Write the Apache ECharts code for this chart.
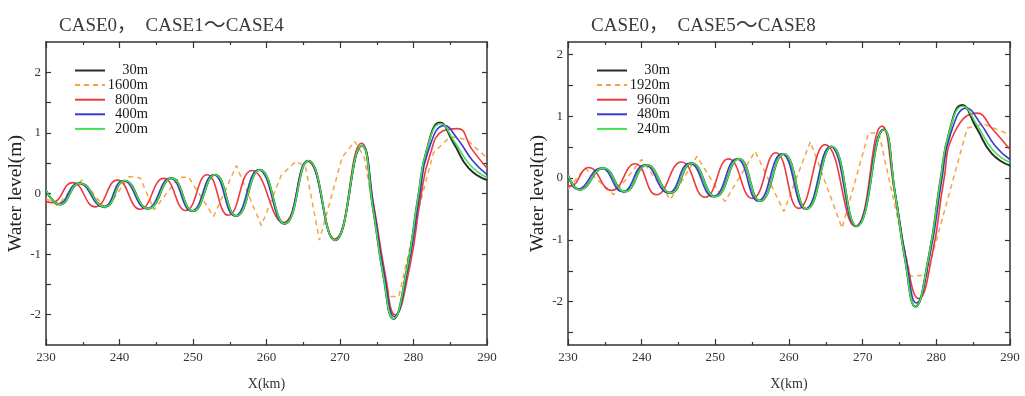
<!DOCTYPE html>
<html>
<head>
<meta charset="utf-8">
<script src="https://cdn.jsdelivr.net/npm/echarts@6/dist/echarts.min.js"></script>
<style>
  html, body { margin: 0; padding: 0; background: #fff; }
  #chart { width: 1025px; height: 396px; }
</style>
</head>
<body>
<div id="chart"></div>
<script>
// ---- Left panel: CASE0, CASE1-CASE4 (grid spacing 30m / 1600m / 800m / 400m / 200m)
const xL30   = [230, 231.9, 234.6, 238.0, 240.7, 243.9, 247.1, 250.0, 253.0, 255.9, 259.1, 262.5, 265.7, 269.3, 272.95, 274.5, 275.9, 277.25, 279.1, 280.65, 281.8, 283.6, 285.5, 287.5, 290];
const yL30   = [0.05, -0.18, 0.17, -0.22, 0.21, -0.25, 0.25, -0.29, 0.31, -0.37, 0.39, -0.50, 0.54, -0.77, 0.79, -0.26, -1.36, -2.07, -1.25, -0.04, 0.72, 1.17, 0.82, 0.42, 0.22];
const xL200  = [230, 231.9, 234.6, 238.0, 240.7, 243.9, 247.1, 250.0, 253.0, 255.9, 259.1, 262.5, 265.7, 269.3, 272.95, 274.5, 275.9, 277.25, 279.1, 280.65, 281.8, 283.7, 285.6, 287.7, 290];
const yL200  = [0.05, -0.18, 0.17, -0.22, 0.21, -0.25, 0.25, -0.29, 0.31, -0.37, 0.39, -0.50, 0.54, -0.77, 0.79, -0.26, -1.36, -2.07, -1.25, -0.04, 0.72, 1.15, 0.85, 0.47, 0.26];
const xL400  = [230, 231.7, 234.4, 237.8, 240.5, 243.7, 246.9, 249.8, 252.8, 255.7, 258.9, 262.4, 265.6, 269.3, 273.0, 274.6, 276.0, 277.4, 279.3, 280.85, 282.0, 284.2, 286.0, 288.0, 290];
const yL400  = [0.05, -0.17, 0.17, -0.22, 0.21, -0.25, 0.25, -0.29, 0.31, -0.37, 0.39, -0.50, 0.54, -0.77, 0.79, -0.24, -1.32, -2.03, -1.20, -0.02, 0.70, 1.12, 0.90, 0.55, 0.31];
const xL800  = [230, 230.8, 233.6, 236.7, 239.7, 242.8, 246.0, 249.0, 251.9, 254.8, 258.0, 262.3, 265.6, 269.3, 272.9, 274.6, 276.1, 277.5, 279.5, 281.0, 282.2, 284.0, 286.0, 288.0, 290];
const yL800  = [-0.13, -0.15, 0.18, -0.22, 0.22, -0.26, 0.25, -0.28, 0.31, -0.36, 0.38, -0.48, 0.53, -0.75, 0.83, -0.20, -1.30, -2.00, -1.20, -0.05, 0.62, 1.03, 1.07, 0.72, 0.42];
const xL1600 = [230, 231.6, 233.3, 234.9, 238.2, 241.3, 242.8, 244.7, 248.1, 249.4, 252.8, 255.9, 259.3, 262.0, 264.0, 265.3, 267.2, 270.3, 272.0, 273.3, 275.0, 276.7, 278.0, 280.7, 282.7, 285.0, 287.2, 290];
const yL1600 = [-0.08, -0.20, 0.05, 0.22, -0.26, 0.28, 0.26, -0.27, 0.27, 0.27, -0.38, 0.46, -0.53, 0.30, 0.53, 0.45, -0.77, 0.60, 0.86, 0.60, -0.60, -1.70, -1.70, -0.26, 0.67, 0.94, 0.89, 0.59];

// ---- Right panel: CASE0, CASE5-CASE8 (grid spacing 30m / 1920m / 960m / 480m / 240m)
const xR30   = [230, 231.6, 234.8, 237.7, 240.7, 243.9, 246.8, 250.0, 253.2, 256.1, 259.3, 262.4, 265.8, 269.2, 272.85, 274.4, 275.8, 277.15, 279.0, 280.55, 281.7, 283.5, 285.5, 287.5, 290];
const yR30   = [0.05, -0.19, 0.16, -0.22, 0.21, -0.24, 0.24, -0.30, 0.31, -0.37, 0.39, -0.50, 0.51, -0.78, 0.78, -0.25, -1.35, -2.08, -1.25, -0.04, 0.72, 1.18, 0.80, 0.40, 0.20];
const xR240  = [230, 231.6, 234.8, 237.7, 240.7, 243.9, 246.8, 250.0, 253.2, 256.1, 259.3, 262.4, 265.8, 269.2, 272.85, 274.4, 275.8, 277.15, 279.0, 280.55, 281.7, 283.6, 285.6, 287.7, 290];
const yR240  = [0.05, -0.19, 0.16, -0.22, 0.21, -0.24, 0.24, -0.30, 0.31, -0.37, 0.39, -0.50, 0.51, -0.78, 0.78, -0.25, -1.35, -2.08, -1.25, -0.04, 0.72, 1.16, 0.84, 0.45, 0.25];
const xR480  = [230, 231.3, 234.5, 237.4, 240.4, 243.6, 246.5, 249.7, 252.9, 255.8, 259.0, 262.2, 265.6, 269.1, 272.8, 274.4, 275.9, 277.3, 279.2, 280.75, 281.9, 284.1, 286.0, 288.0, 290];
const yR480  = [0.05, -0.18, 0.16, -0.22, 0.21, -0.24, 0.24, -0.30, 0.31, -0.37, 0.39, -0.50, 0.51, -0.78, 0.79, -0.23, -1.32, -2.02, -1.20, -0.02, 0.70, 1.13, 0.88, 0.52, 0.30];
const xR960  = [230, 230.3, 232.8, 235.9, 239.1, 242.0, 245.4, 248.6, 251.8, 255.0, 258.2, 261.3, 264.9, 269.0, 272.6, 274.3, 275.9, 277.6, 279.5, 281.0, 282.4, 285.5, 287.7, 290];
const yR960  = [-0.12, -0.13, 0.17, -0.20, 0.23, -0.27, 0.26, -0.31, 0.31, -0.33, 0.41, -0.49, 0.54, -0.78, 0.84, -0.20, -1.30, -1.95, -1.20, -0.05, 0.72, 1.05, 0.78, 0.46];
const xR1920 = [230, 232.3, 236.2, 240.0, 243.9, 247.5, 251.3, 255.4, 259.3, 262.9, 267.2, 270.8, 272.2, 276.5, 278.7, 284.2, 286.5, 290];
const yR1920 = [-0.18, 0.16, -0.27, 0.30, -0.35, 0.35, -0.38, 0.43, -0.54, 0.59, -0.81, 0.73, 0.73, -1.59, -1.57, 0.81, 0.87, 0.70];

// ---- Axis ticks and labels
const yTicksL  = [-2, -1.5, -1, -0.5, 0, 0.5, 1, 1.5, 2];
const yTicksR  = [-2.5, -2, -1.5, -1, -0.5, 0, 0.5, 1, 1.5, 2];
const yLabels  = [-2, -1, 0, 1, 2];
const legendL  = ['30m', '1600m', '800m', '400m', '200m'];
const legendR  = ['30m', '1920m', '960m', '480m', '240m'];

const SERIF = "'Liberation Serif', 'Times New Roman', 'DejaVu Serif', serif";
const TITLE_FONT = "'Liberation Serif', 'Noto Sans CJK SC', serif";
const AXIS_COLOR = '#333';
const COLORS = { c30: '#2b2b2b', coarse: '#f6a345', red: '#ec3a3f', blue: '#3a3ad2', green: '#45e052' };

const pairs = (xs, ys) => xs.map((x, i) => [x, ys[i]]);

function xAxisFor(grid, pos, withLabels) {
  return {
    gridIndex: grid, type: 'value', position: pos, min: 230, max: 290, interval: 10,
    axisLine: { show: true, onZero: false, lineStyle: { color: AXIS_COLOR, width: 1.5 } },
    axisTick: { show: true, inside: true, length: 6, lineStyle: { color: AXIS_COLOR, width: 1.2 } },
    minorTick: { show: true, splitNumber: 2, length: 3, lineStyle: { color: AXIS_COLOR, width: 1.2 } },
    axisLabel: { show: withLabels, color: '#333', fontFamily: SERIF, fontSize: 13, margin: 6 },
    splitLine: { show: false },
    name: withLabels ? 'X(km)' : '', nameLocation: 'middle', nameGap: 32,
    nameTextStyle: { color: '#333', fontFamily: SERIF, fontSize: 14 }
  };
}

function yAxisFor(grid, pos, min, max, ticks, withLabels) {
  return {
    gridIndex: grid, type: 'value', position: pos, min: min, max: max,
    axisLine: { show: true, onZero: false, lineStyle: { color: AXIS_COLOR, width: 1.5 } },
    axisTick: { show: true, inside: true, length: 5, customValues: ticks, lineStyle: { color: AXIS_COLOR, width: 1.2 } },
    axisLabel: { show: withLabels, customValues: yLabels, color: '#333', fontFamily: SERIF, fontSize: 13, margin: 5 },
    splitLine: { show: false },
    name: withLabels ? 'Water level(m)' : '', nameLocation: 'middle', nameGap: 19, nameRotate: 90,
    nameTextStyle: { color: '#222', fontFamily: SERIF, fontSize: 19.5 }
  };
}

function line(name, xs, ys, color, xi, yi, opts) {
  return Object.assign({
    name: name, type: 'line', xAxisIndex: xi, yAxisIndex: yi,
    data: pairs(xs, ys), showSymbol: false, symbol: 'none', smooth: 0.5,
    lineStyle: { color: color, width: 1.6 }, itemStyle: { color: color }, clip: true
  }, opts || {});
}

function legendFor(left, names) {
  return {
    orient: 'vertical', left: left, top: 63, padding: 0, data: names,
    itemWidth: 30, itemHeight: 10, itemGap: -0.4, selectedMode: false,
    itemStyle: { opacity: 0 },
    textStyle: { color: '#1a1a1a', fontFamily: SERIF, fontSize: 14.5, lineHeight: 13.8,
      rich: { n: { width: 38, align: 'right', fontFamily: SERIF, fontSize: 14.5, lineHeight: 13.8, color: '#1a1a1a' } } },
    formatter: '{n|{name}}'
  };
}

const titleRich = {
  a: { fontFamily: TITLE_FONT, fontSize: 19, fontWeight: 'normal', color: '#3a3a3a' },
  t: { fontFamily: TITLE_FONT, fontSize: 22, fontWeight: 'normal', color: '#3a3a3a' }
};

const option = {
  animation: false,
  backgroundColor: '#fff',
  title: [
    { text: '{a|CASE0，　CASE1}{t|～}{a|CASE4}', left: 54, top: 10, textStyle: { fontWeight: 'normal', rich: titleRich } },
    { text: '{a|CASE0，　CASE5}{t|～}{a|CASE8}', left: 586, top: 10, textStyle: { fontWeight: 'normal', rich: titleRich } }
  ],
  legend: [legendFor(74, legendL), legendFor(596, legendR)],
  grid: [
    { left: 46, top: 42, width: 441, height: 303 },
    { left: 568, top: 42, width: 442, height: 303 }
  ],
  xAxis: [
    xAxisFor(0, 'bottom', true), xAxisFor(0, 'top', false),
    xAxisFor(1, 'bottom', true), xAxisFor(1, 'top', false)
  ],
  yAxis: [
    yAxisFor(0, 'left', -2.5, 2.5, yTicksL, true), yAxisFor(0, 'right', -2.5, 2.5, yTicksL, false),
    yAxisFor(1, 'left', -2.7, 2.2, yTicksR, true), yAxisFor(1, 'right', -2.7, 2.2, yTicksR, false)
  ],
  series: [
    line('1600m', xL1600, yL1600, COLORS.coarse, 0, 0, { smooth: false, lineStyle: { color: COLORS.coarse, width: 1.5, type: [5, 4] } }),
    line('800m', xL800, yL800, COLORS.red, 0, 0),
    line('400m', xL400, yL400, COLORS.blue, 0, 0),
    line('30m', xL30, yL30, COLORS.c30, 0, 0, { lineStyle: { color: COLORS.c30, width: 2 } }),
    line('200m', xL200, yL200, COLORS.green, 0, 0),

    line('1920m', xR1920, yR1920, COLORS.coarse, 2, 2, { smooth: false, lineStyle: { color: COLORS.coarse, width: 1.5, type: [5, 4] } }),
    line('960m', xR960, yR960, COLORS.red, 2, 2),
    line('480m', xR480, yR480, COLORS.blue, 2, 2),
    line('30m', xR30, yR30, COLORS.c30, 2, 2, { lineStyle: { color: COLORS.c30, width: 2 } }),
    line('240m', xR240, yR240, COLORS.green, 2, 2)
  ]
};

const chart = echarts.init(document.getElementById('chart'), null, { renderer: 'canvas' });
chart.setOption(option);
</script>
</body>
</html>
